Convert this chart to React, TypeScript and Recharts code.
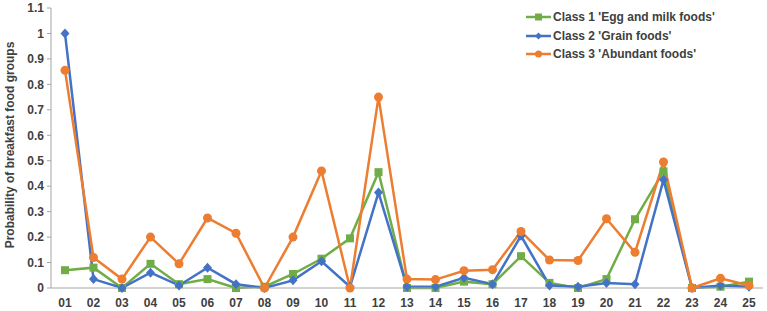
import { CartesianGrid, Label, Line, LineChart, XAxis, YAxis } from "recharts";

const categories = [
  "01", "02", "03", "04", "05", "06", "07", "08", "09", "10", "11", "12", "13",
  "14", "15", "16", "17", "18", "19", "20", "21", "22", "23", "24", "25",
];

const eggMilk = [
  0.07, 0.08, 0.0, 0.095, 0.015, 0.035, 0.0, 0.005, 0.055, 0.115, 0.195, 0.455, 0.0,
  0.0, 0.025, 0.015, 0.125, 0.02, 0.0, 0.035, 0.27, 0.458, 0.0, 0.005, 0.025,
];

const grain = [
  1.0, 0.035, 0.0, 0.06, 0.01, 0.08, 0.015, 0.0, 0.03, 0.105, 0.005, 0.375, 0.005,
  0.005, 0.04, 0.015, 0.205, 0.01, 0.005, 0.02, 0.015, 0.425, 0.0, 0.01, 0.005,
];

const abundant = [
  0.855, 0.12, 0.035, 0.2, 0.095, 0.275, 0.215, 0.0, 0.2, 0.46, 0.0, 0.75, 0.035,
  0.033, 0.068, 0.072, 0.222, 0.11, 0.108, 0.272, 0.14, 0.495, 0.0, 0.038, 0.01,
];

const yTicks = [0, 0.1, 0.2, 0.3, 0.4, 0.5, 0.6, 0.7, 0.8, 0.9, 1, 1.1];

const seriesNames = [
  "Class 1 'Egg and milk foods'",
  "Class 2 'Grain foods'",
  "Class 3 'Abundant foods'",
];
const seriesColors = ["#70ad47", "#4472c4", "#ed7d31"];

const data = categories.map((name, i) => ({
  name,
  egg: eggMilk[i],
  grain: grain[i],
  abundant: abundant[i],
}));

const font = "'Liberation Sans', Arial, sans-serif";
const textColor = "#404040";
const axisColor = "#a6a6a6";

const SquareDot = (props: any) => {
  const { cx, cy, index } = props;
  if (cx == null || cy == null) return null;
  return <rect key={`sq-${index}`} x={cx - 4} y={cy - 4} width={8} height={8} fill={seriesColors[0]} />;
};

const DiamondDot = (props: any) => {
  const { cx, cy, index } = props;
  if (cx == null || cy == null) return null;
  return (
    <polygon
      key={`dm-${index}`}
      points={`${cx},${cy - 5} ${cx + 4.5},${cy} ${cx},${cy + 5} ${cx - 4.5},${cy}`}
      fill={seriesColors[1]}
    />
  );
};

const CircleDot = (props: any) => {
  const { cx, cy, index } = props;
  if (cx == null || cy == null) return null;
  return <circle key={`ci-${index}`} cx={cx} cy={cy} r={4.5} fill={seriesColors[2]} />;
};

const markers = [
  (x: number, y: number, c: string) => <rect x={x - 3.5} y={y - 3.5} width={7} height={7} fill={c} />,
  (x: number, y: number, c: string) => (
    <polygon points={`${x},${y - 3.5} ${x + 3.5},${y} ${x},${y + 3.5} ${x - 3.5},${y}`} fill={c} />
  ),
  (x: number, y: number, c: string) => <circle cx={x} cy={y} r={3.5} fill={c} />,
];

function ChartLegend() {
  return (
    <div style={{ position: "absolute", left: 526, top: 8, fontFamily: font }}>
      {seriesNames.map((name, i) => (
        <div key={name} style={{ display: "flex", alignItems: "center", height: 18.5 }}>
          <svg width={25} height={10} style={{ marginRight: 2 }}>
            <line x1={0} y1={5} x2={25} y2={5} stroke={seriesColors[i]} strokeWidth={2.5} />
            {markers[i](12.5, 5, seriesColors[i])}
          </svg>
          <span style={{ fontSize: 12, fontWeight: 700, color: textColor, whiteSpace: "nowrap" }}>{name}</span>
        </div>
      ))}
    </div>
  );
}

export default function App() {
  return (
    <div style={{ position: "absolute", left: 0, top: 0, width: 767, height: 311, background: "#fff" }}>
      <LineChart width={767} height={311} data={data} margin={{ top: 8, right: 4, bottom: 0, left: 0 }}>
        <CartesianGrid vertical={false} horizontal={false} />
        <XAxis
          dataKey="name"
          padding={{ left: 14, right: 14 }}
          height={23}
          tickLine={false}
          axisLine={{ stroke: axisColor, strokeWidth: 1 }}
          tick={{ fill: textColor, fontSize: 12, fontWeight: 700, fontFamily: font }}
          tickMargin={4}
          interval={0}
        />
        <YAxis
          width={51}
          domain={[0, 1.1]}
          ticks={yTicks}
          tickFormatter={(v) => String(v)}
          axisLine={{ stroke: axisColor, strokeWidth: 1 }}
          tickLine={{ stroke: axisColor }}
          tickSize={4}
          tickMargin={3}
          tick={{ fill: textColor, fontSize: 12, fontWeight: 700, fontFamily: font }}
        >
          <Label
            content={() => (
              <text
                x={10}
                y={145}
                transform="rotate(-90 10 145)"
                textAnchor="middle"
                dominantBaseline="central"
                fill={textColor}
                fontSize={12}
                fontWeight={700}
                fontFamily={font}
              >
                Probability of breakfast food groups
              </text>
            )}
          />
        </YAxis>
        <Line
          type="linear"
          dataKey="egg"
          stroke={seriesColors[0]}
          strokeWidth={2.5}
          dot={SquareDot}
          activeDot={false}
          isAnimationActive={false}
        />
        <Line
          type="linear"
          dataKey="grain"
          stroke={seriesColors[1]}
          strokeWidth={2.5}
          dot={DiamondDot}
          activeDot={false}
          isAnimationActive={false}
        />
        <Line
          type="linear"
          dataKey="abundant"
          stroke={seriesColors[2]}
          strokeWidth={2.5}
          dot={CircleDot}
          activeDot={false}
          isAnimationActive={false}
        />
      </LineChart>
      <ChartLegend />
    </div>
  );
}
